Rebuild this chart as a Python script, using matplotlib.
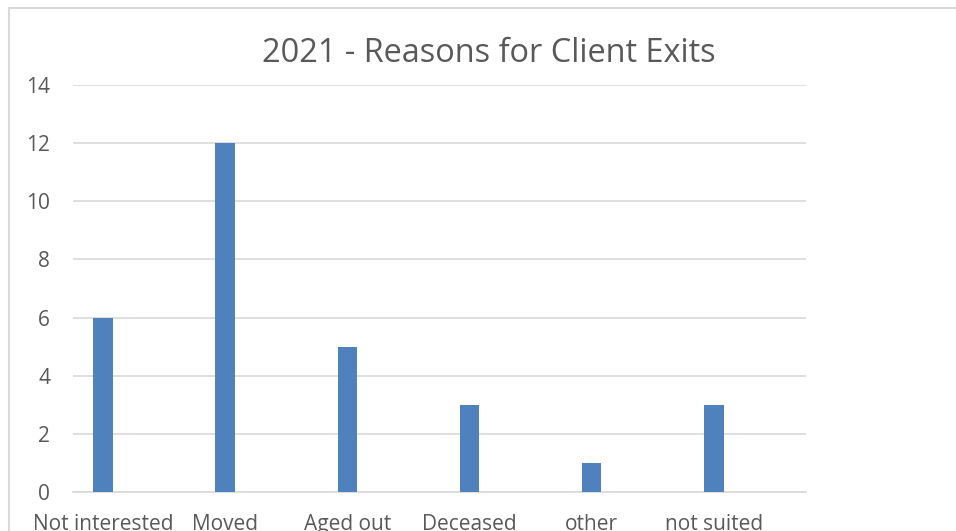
import matplotlib
matplotlib.use("Agg")
import matplotlib.pyplot as plt
import matplotlib.patches as patches
import numpy as np

# Exit reasons and client counts
reasons = ["Not interested", "Moved", "Aged out", "Deceased", "other", "not suited"]
counts = [6, 12, 5, 3, 1, 3]
y_ticks = [0, 2, 4, 6, 8, 10, 12, 14]

text_color = "#595959"
grid_color = "#d9d9d9"
bar_color = "#4f81bd"

plt.rcParams['font.family'] = ['Open Sans', 'DejaVu Sans']

fig = plt.figure(figsize=(9.56, 5.31), dpi=100)
ax = fig.add_axes([73 / 956, 1 - 492 / 531, (806 - 73) / 956, (492 - 85) / 531])

x = np.arange(len(reasons))
ax.bar(x, counts, width=0.16, color=bar_color, zorder=3)

ax.set_xlim(-0.246, 5.754)
ax.set_ylim(0, 14)
ax.set_yticks(y_ticks)
ax.set_xticks(x, reasons)
ax.grid(axis="y", color=grid_color, linewidth=1.2, zorder=0)
ax.tick_params(axis="both", length=0, colors=text_color, labelsize=15)
ax.tick_params(axis="y", pad=16.5)
ax.tick_params(axis="x", pad=16)
for side in ["top", "right", "left"]:
    ax.spines[side].set_visible(False)
ax.spines["bottom"].set_color(grid_color)
ax.spines["bottom"].set_linewidth(1.2)

fig.text(489 / 956, 1 - 53 / 531, "2021 - Reasons for Client Exits",
         ha="center", va="center", fontsize=23.4, color=text_color)

# chart frame
frame = patches.Rectangle((9 / 956, -0.1), 1.1, 1 - 8 / 531 + 0.1,
                          transform=fig.transFigure, fill=False,
                          edgecolor=grid_color, linewidth=1.5, clip_on=False)
fig.patches.append(frame)

fig.savefig("out.png", dpi=100)
